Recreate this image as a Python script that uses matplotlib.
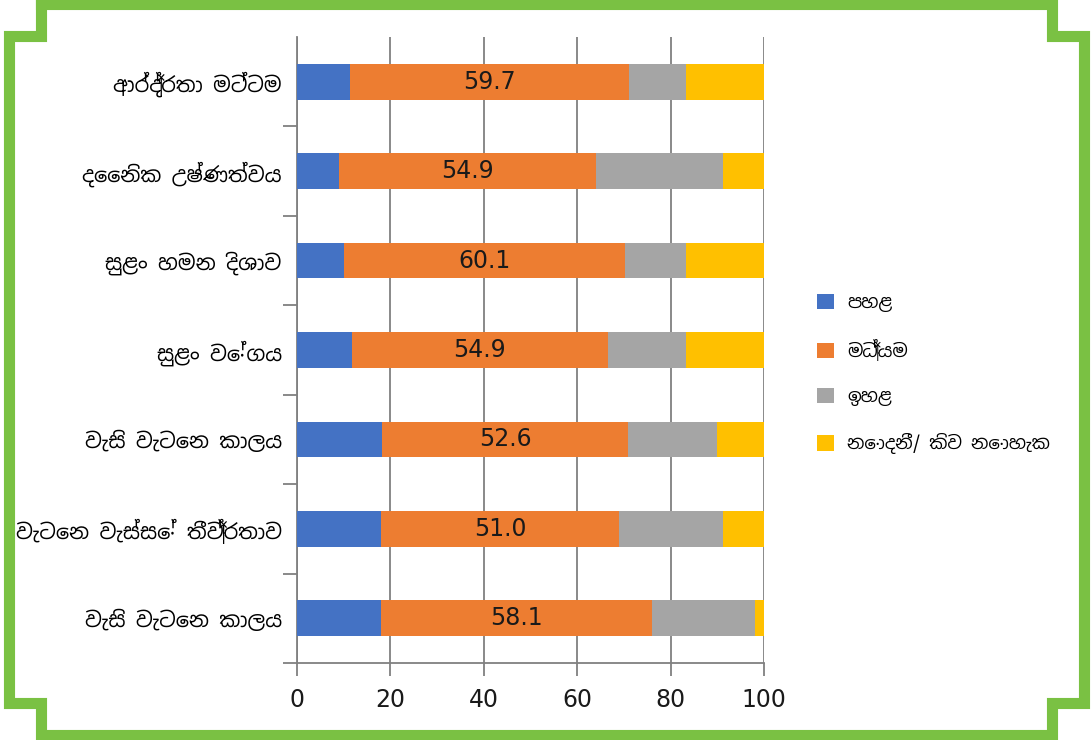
import matplotlib.pyplot as plt
import numpy as np

# ප්‍රතිශත - ඉහළ සිට පහළට
labels = ['ආර්ද්‍රතා මට්ටම', 'දෛනික උෂ්ණත්වය', 'සුළං හමන දිශාව', 'සුළං වේගය',
          'වැසි වැටෙන කාලය', 'වැටෙන වැස්සේ තීව්‍රතාව', 'වැසි වැටෙන කාලය']
low = [11.4, 9.1, 10.1, 11.7, 18.3, 18.0, 17.9]
mid = [59.7, 54.9, 60.1, 54.9, 52.6, 51.0, 58.1]
high = [12.3, 27.3, 13.1, 16.7, 19.1, 22.3, 22.0]
unknown = [16.6, 8.7, 16.7, 16.7, 10.0, 8.7, 2.0]

series = ['පහළ', 'මධ්‍යම', 'ඉහළ', 'නොදනී/ කිව නොහැක']
colors = ['#4472C4', '#ED7D31', '#A5A5A5', '#FFC000']

plt.rcParams['font.family'] = ['Noto Sans Sinhala', 'Iskoola Pota', 'DejaVu Sans']

fig = plt.figure(figsize=(10.91, 7.40), dpi=100)

# කොළ පාට රාමුව
frame = fig.add_axes([0, 0, 1, 1])
frame.set_xlim(0, 1091)
frame.set_ylim(740, 0)
frame.axis('off')
fx = [41, 1052, 1052, 1084, 1084, 1052, 1052, 41, 41, 9, 9, 41, 41]
fy = [4, 4, 36, 36, 703, 703, 735, 735, 703, 703, 36, 36, 4]
frame.plot(fx, fy, color='#7AC143', lw=8, solid_joinstyle='miter')

ax = fig.add_axes([0.2722, 0.104, 0.4281, 0.846])
y = np.arange(len(labels))[::-1]
left = np.zeros(len(labels))
for vals, name, c in zip([low, mid, high, unknown], series, colors):
    bars = ax.barh(y, vals, left=left, height=0.4, color=c, label=name, zorder=3)
    if name == 'මධ්‍යම':
        ax.bar_label(bars, labels=[f'{v:.1f}' for v in vals], label_type='center',
                     fontsize=17, color='#1a1a1a', family='DejaVu Sans')
    left += np.array(vals)

ax.set_xlim(0, 100)
ax.set_ylim(-0.5, len(labels) - 0.5)
ax.set_xticks(range(0, 101, 20))
ax.tick_params(axis='x', labelsize=17, length=9, width=1.3, color='#808080',
               labelcolor='#1a1a1a', pad=9)
for t in ax.get_xticklabels():
    t.set_family('DejaVu Sans')
ax.grid(axis='x', color='#808080', lw=1.3, zorder=0)

ax.set_yticks(y)
ax.set_yticklabels(labels, fontsize=15)
ax.set_yticks(np.arange(len(labels)) - 0.5, minor=True)
ax.tick_params(axis='y', which='major', length=0, pad=11)
ax.tick_params(axis='y', which='minor', length=10, width=1.3, color='#808080')

for s in ['top', 'right']:
    ax.spines[s].set_visible(False)
for s in ['left', 'bottom']:
    ax.spines[s].set_color('#808080')
    ax.spines[s].set_linewidth(1.3)

ax.legend(loc='center left', bbox_to_anchor=(1.079, 0.462), frameon=False,
          fontsize=13, handlelength=0.95, handleheight=0.95,
          labelspacing=1.5, handletextpad=0.7)

fig.savefig('out.png', dpi=100)
